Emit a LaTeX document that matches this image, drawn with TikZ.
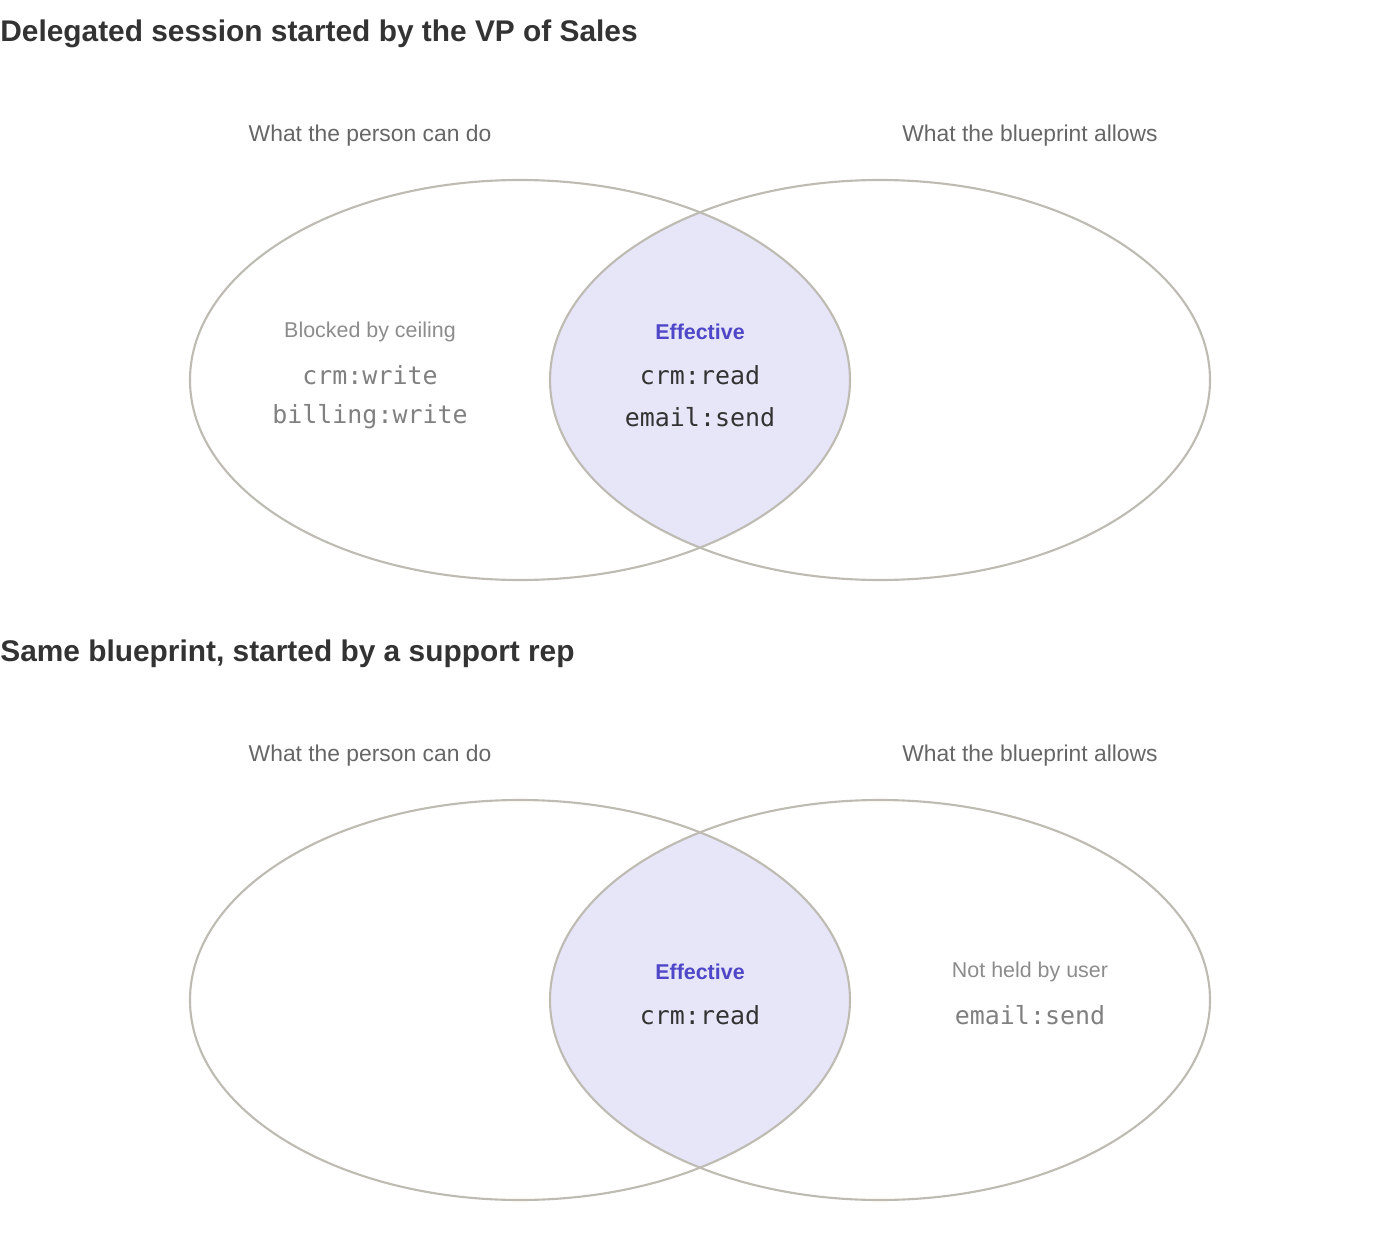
\documentclass[tikz,border=0pt]{standalone}
\usepackage{fontspec}
\setmainfont{Liberation Sans}
\setmonofont{DejaVu Sans Mono}
\usepackage{xcolor}
\usetikzlibrary{positioning}
\definecolor{ringcolor}{HTML}{BDBBB2}
\definecolor{lenscolor}{HTML}{E6E6F8}
\definecolor{effcolor}{HTML}{4F46C8}
\definecolor{titlecolor}{HTML}{333333}

\begin{document}
\begin{tikzpicture}[
  x=0.02cm, y=-0.02cm,
  ring/.style={draw=ringcolor, line width=1.2pt},
  title/.style={font=\fontsize{17}{20}\selectfont\bfseries, text=titlecolor, anchor=west, inner sep=0pt},
  setlbl/.style={font=\fontsize{13}{15}\selectfont, text=black!60},
  zonelbl/.style={font=\fontsize{12.2}{14}\selectfont, text=black!45},
  efflbl/.style={font=\fontsize{12.2}{14}\selectfont\bfseries, text=effcolor},
  perm/.style={font=\fontsize{14.2}{16}\selectfont\ttfamily, text=titlecolor},
  gperm/.style={perm, text=black!50},
]
  \useasboundingbox (0,0) rectangle (1400,1240);

  % Delegated session by the VP of Sales
  \node[title] (t1) at (0,34) {Delegated session started by the VP of Sales};
  \begin{scope}
    \clip (520,380) ellipse [x radius=330, y radius=200];
    \fill[lenscolor] (880,380) ellipse [x radius=330, y radius=200];
  \end{scope}
  \draw[ring] (520,380) ellipse [x radius=330, y radius=200];
  \draw[ring] (880,380) ellipse [x radius=330, y radius=200];
  \node[setlbl] (p1) at (370,136) {What the person can do};
  \node[setlbl] (b1) at (1030,136) {What the blueprint allows};
  \node[zonelbl] (z1) at (370,332) {Blocked by ceiling};
  \node[gperm] (w1) at (370,375) {crm:write};
  \node[gperm] (w2) at (370,417) {billing:write};
  \node[efflbl] (e1) at (700,332) {Effective};
  \node[perm] (r1) at (700,375) {crm:read};
  \node[perm] (s1) at (700,417) {email:send};

  % Same blueprint, support rep
  \node[title] (t2) at (0,654) {Same blueprint, started by a support rep};
  \begin{scope}
    \clip (520,1000) ellipse [x radius=330, y radius=200];
    \fill[lenscolor] (880,1000) ellipse [x radius=330, y radius=200];
  \end{scope}
  \draw[ring] (520,1000) ellipse [x radius=330, y radius=200];
  \draw[ring] (880,1000) ellipse [x radius=330, y radius=200];
  \node[setlbl] (p2) at (370,756) {What the person can do};
  \node[setlbl] (b2) at (1030,756) {What the blueprint allows};
  \node[efflbl] (e2) at (700,972) {Effective};
  \node[perm] (r2) at (700,1015) {crm:read};
  \node[zonelbl] (z2) at (1030,972) {Not held by user};
  \node[gperm] (s2) at (1030,1015) {email:send};
\end{tikzpicture}
\end{document}
